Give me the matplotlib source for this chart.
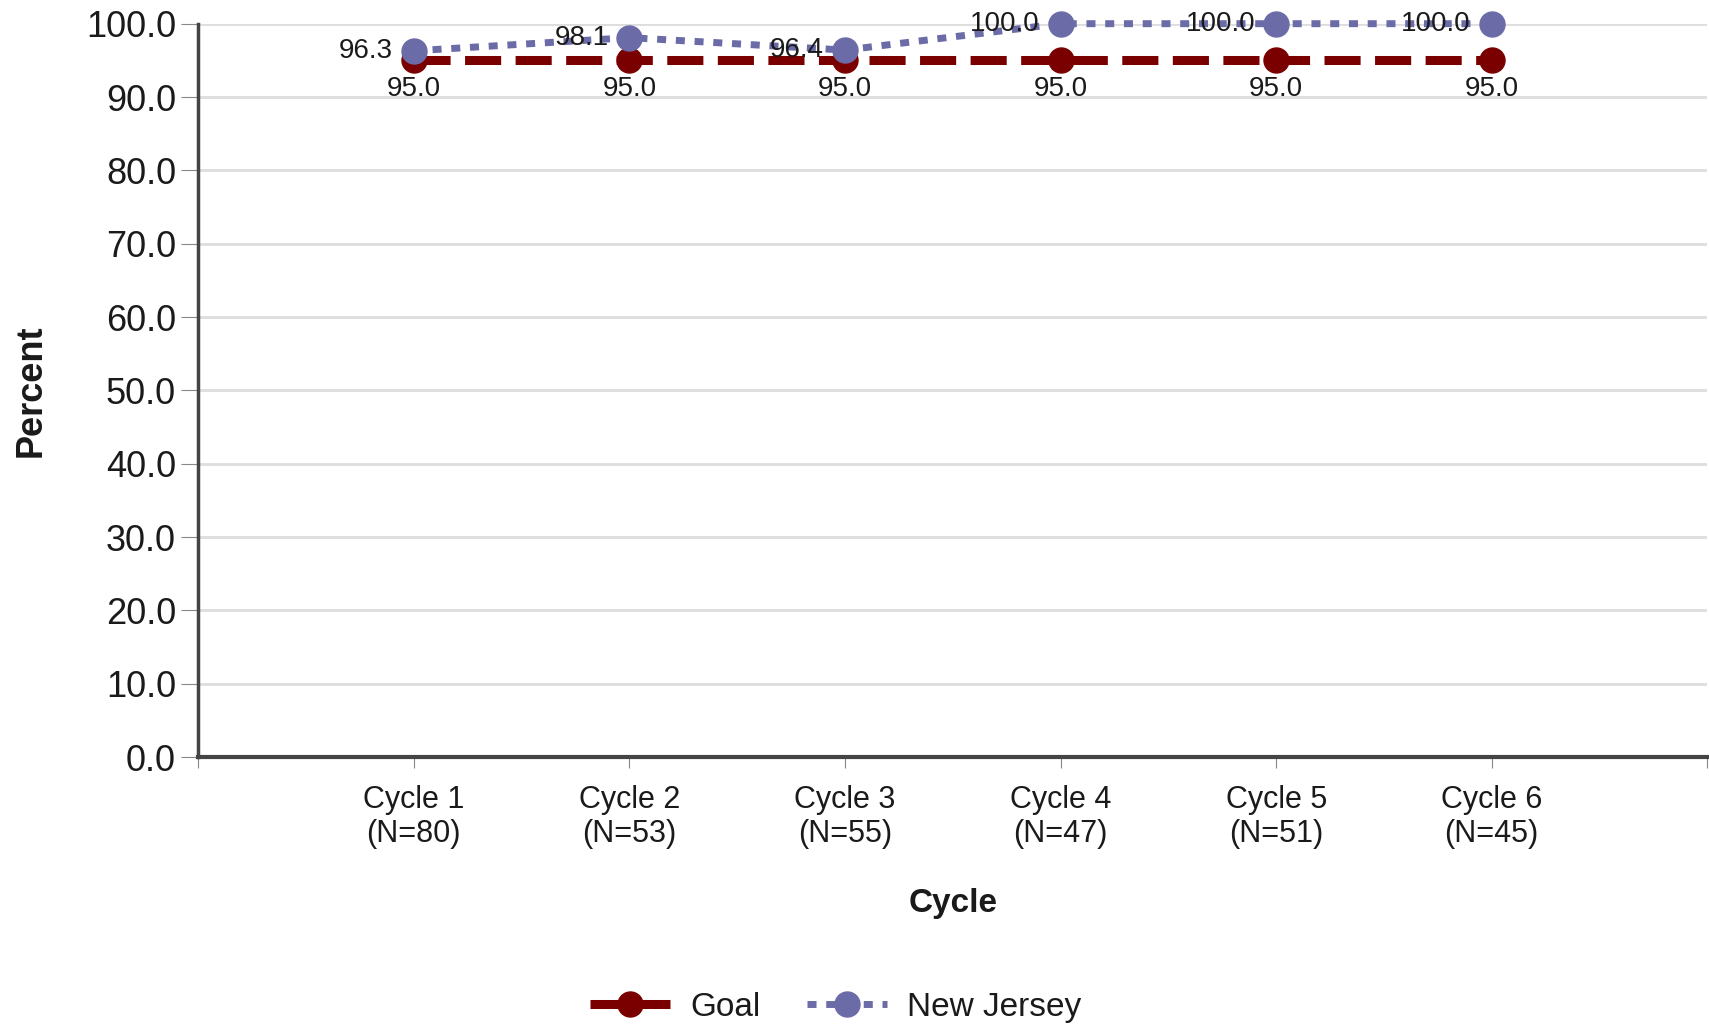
import matplotlib
matplotlib.use("Agg")
import matplotlib.pyplot as plt
from matplotlib.lines import Line2D

plt.rcParams['font.family'] = ['Liberation Sans', 'DejaVu Sans']

categories = ["Cycle 1\n(N=80)", "Cycle 2\n(N=53)", "Cycle 3\n(N=55)",
              "Cycle 4\n(N=47)", "Cycle 5\n(N=51)", "Cycle 6\n(N=45)"]
goal = [95.0, 95.0, 95.0, 95.0, 95.0, 95.0]
new_jersey = [96.3, 98.1, 96.4, 100.0, 100.0, 100.0]
yticks = [0, 10, 20, 30, 40, 50, 60, 70, 80, 90, 100]

goal_color = "#7a0000"
nj_color = "#6b6ba8"
text_color = "#1a1a1a"

fig = plt.figure(figsize=(17.09, 10.30), dpi=100)
ax = fig.add_axes([0.116, 0.265, 0.883, 0.712])

x = list(range(1, len(categories) + 1))

goal_style = dict(color=goal_color, lw=6.5, dashes=(4.0, 1.6), marker='o', markersize=18)
nj_style = dict(color=nj_color, lw=5.0, dashes=(1.3, 1.4), marker='o', markersize=18)

ax.plot(x, goal, zorder=3, clip_on=False, label="Goal", **goal_style)
ax.plot(x, new_jersey, zorder=4, clip_on=False, label="New Jersey", **nj_style)

for xi, v in zip(x, goal):
    ax.annotate(f"{v:.1f}", (xi, v), xytext=(0, -11), textcoords='offset points',
                ha='center', va='top', fontsize=20, color=text_color, zorder=5,
                annotation_clip=False)
for xi, v in zip(x, new_jersey):
    ax.annotate(f"{v:.1f}", (xi, v), xytext=(-15, 0), textcoords='offset points',
                ha='right', va='center', fontsize=20, color=text_color, zorder=5,
                annotation_clip=False)

ax.set_xlim(0, 7)
ax.set_ylim(0, 100)
ax.set_yticks(yticks)
ax.set_yticklabels([f"{t:.1f}" for t in yticks], fontsize=26, color=text_color)
ax.set_xticks(list(range(0, 8)))
ax.set_xticklabels([""] + categories + [""], fontsize=22, color=text_color)
ax.tick_params(axis='x', length=8, color='#888888', pad=12)
ax.tick_params(axis='y', length=12, color='#888888', pad=4)

ax.grid(axis='y', color='#dddddd', lw=2)
ax.set_axisbelow(True)
for s in ['top', 'right']:
    ax.spines[s].set_visible(False)
ax.spines['left'].set_color('#444444')
ax.spines['left'].set_linewidth(2.5)
ax.spines['bottom'].set_color('#444444')
ax.spines['bottom'].set_linewidth(3)

ax.set_ylabel("Percent", fontsize=26, fontweight='bold', labelpad=27, color=text_color)
ax.set_xlabel("Cycle", fontsize=24, fontweight='bold', labelpad=28, color=text_color)

handles = [Line2D([0], [0], **goal_style), Line2D([0], [0], **nj_style)]
fig.legend(handles, ["Goal", "New Jersey"], loc='center', bbox_to_anchor=(0.489, 0.022),
           ncol=2, frameon=False, fontsize=24, handlelength=2.4, columnspacing=1.4,
           handletextpad=0.6, labelcolor=text_color)

fig.savefig("out.png", dpi=100)
